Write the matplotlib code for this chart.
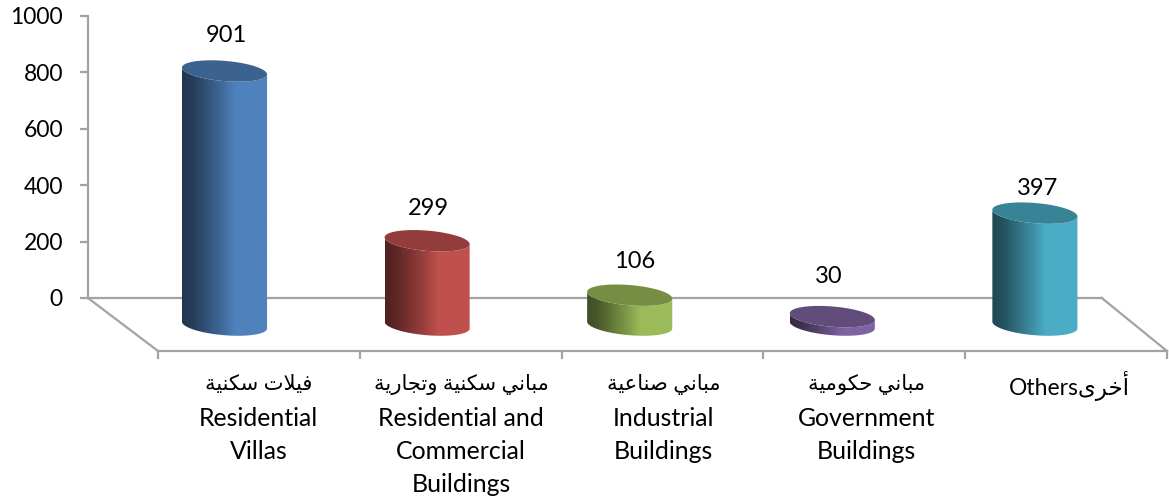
# -*- coding: utf-8 -*-
import numpy as np
import matplotlib
matplotlib.use('Agg')
import matplotlib.pyplot as plt
from matplotlib.colors import LinearSegmentedColormap
from matplotlib.patches import Polygon, PathPatch
from matplotlib.path import Path

plt.rcParams['font.family'] = ['Lato', 'DejaVu Sans']

values = [901, 299, 106, 30, 397]
arabic = ['فيلات سكنية', 'مباني سكنية وتجارية', 'مباني صناعية', 'مباني حكومية', 'أخرى']
english = ['Residential\nVillas', 'Residential and\nCommercial\nBuildings',
           'Industrial\nBuildings', 'Government\nBuildings', '']
colors = ['#4F81BD', '#C0504D', '#9BBB59', '#8064A2', '#4BACC6']
yticks = [0, 200, 400, 600, 800, 1000]

# isolated, final, initial, medial
forms = {
    'ا': 'ﺍﺎ', 'أ': 'ﺃﺄ', 'و': 'ﻭﻮ', 'ر': 'ﺭﺮ', 'ة': 'ﺓﺔ', 'ى': 'ﻯﻰ',
    'ب': 'ﺏﺐﺑﺒ', 'ت': 'ﺕﺖﺗﺘ', 'ج': 'ﺝﺞﺟﺠ', 'ح': 'ﺡﺢﺣﺤ', 'خ': 'ﺥﺦﺧﺨ',
    'س': 'ﺱﺲﺳﺴ', 'ص': 'ﺹﺺﺻﺼ', 'ع': 'ﻉﻊﻋﻌ', 'ف': 'ﻑﻒﻓﻔ', 'ك': 'ﻙﻚﻛﻜ',
    'ل': 'ﻝﻞﻟﻠ', 'م': 'ﻡﻢﻣﻤ', 'ن': 'ﻥﻦﻧﻨ', 'ي': 'ﻱﻲﻳﻴ',
}


def shape(text):
    # matplotlib has no arabic shaping, so pick the joined forms by hand
    out = []
    i = 0
    while i < len(text):
        c = text[i]
        if c not in forms:
            out.append(c)
            i += 1
            continue
        prev = text[i - 1] if i > 0 else ' '
        joined = prev in forms and len(forms[prev]) == 4
        if c == 'ل' and text[i + 1:i + 2] == 'ا':
            out.append('ﻼ' if joined else 'ﻻ')
            i += 2
            continue
        nxt = text[i + 1] if i + 1 < len(text) else ' '
        f = forms[c]
        if len(f) == 4 and nxt in forms:
            out.append(f[3] if joined else f[2])
        else:
            out.append(f[1] if joined else f[0])
        i += 1
    return ''.join(out)[::-1]


W, H = 1169, 497
fig = plt.figure(figsize=(W / 100, H / 100), dpi=100)
ax = fig.add_axes([0, 0, 1, 1])
xlim = (-224.5 / 202.6, (W - 224.5) / 202.6)
ylim = (-(H - 298) / 0.282, 298 / 0.282)

grey = '#A3A3A3'
depth = 0.173
floor = -188
base = -96
back_x = -0.674
front = np.linspace(-0.328, 4.652, 6)

# walls and floor
ax.plot([back_x, 4.33], [0, 0], color=grey, lw=1.6, zorder=1)
ax.plot([back_x, front[0]], [0, floor], color=grey, lw=1.6, zorder=1)
ax.plot([4.33, front[-1]], [0, floor], color=grey, lw=1.6, zorder=1)

for s in ['top', 'right']:
    ax.spines[s].set_visible(False)
ax.spines['left'].set_position(('data', back_x))
ax.spines['left'].set_bounds(0, 1000)
ax.spines['bottom'].set_position(('data', floor))
ax.spines['bottom'].set_bounds(front[0], front[-1])
for s in ['left', 'bottom']:
    ax.spines[s].set_color(grey)
    ax.spines[s].set_linewidth(1.6)

ax.set_yticks(yticks)
ax.tick_params(axis='y', length=6, width=1.6, color=grey, pad=12, labelsize=16.5, labelcolor='black')
ax.set_xticks(front)
ax.set_xticklabels([])
ax.tick_params(axis='x', which='major', length=5.5, width=1.6, color=grey)
ax.set_xticks(np.arange(len(values)) + depth - 0.005, labels=english, minor=True)
ax.tick_params(axis='x', which='minor', length=0, pad=40.5, labelsize=17.9, labelcolor='black')
for t in ax.get_xticklabels(minor=True):
    t.set_linespacing(1.53)
    t.set_verticalalignment('top')

# arabic line sits above the english one, the last label is both on one line
for i, a in enumerate(arabic):
    if english[i]:
        ax.text(i + depth - 0.005, -305, shape(a), ha='center', va='center', fontsize=15.2)
    else:
        ax.text(i + depth - 0.005, -312, 'Others' + shape(a), ha='center', va='center', fontsize=16.5)

# cylinders
half_w = 0.21
half_h = 36
tilt = 12
label_dy = [36, 33, 35, 41, 25]
label_dx = [2, 1, 5, -4, 3]
t = np.linspace(0, 2 * np.pi, 121)
grad = np.linspace(0, 1, 256).reshape(1, -1)


def ellipse(cx, cy, tt):
    return np.column_stack([cx + half_w * np.cos(tt),
                            cy + half_h * np.sin(tt) - tilt * np.cos(tt)])


for i, (v, col) in enumerate(zip(values, colors)):
    rgb = np.array(matplotlib.colors.to_rgb(col))
    top_y = base + v
    lower = np.linspace(np.pi, 2 * np.pi, 61)
    top_edge = ellipse(i, top_y, lower)
    bot_edge = ellipse(i, base, lower)[::-1]
    outline = np.vstack([top_edge, bot_edge, top_edge[:1]])
    cmap = LinearSegmentedColormap.from_list(
        'side', [(0, rgb * 0.42), (0.12, rgb * 0.47), (0.45, rgb * 0.8), (0.62, rgb), (1, rgb)])
    im = ax.imshow(grad, cmap=cmap, aspect='auto', zorder=3, interpolation='bilinear',
                   extent=(i - half_w, i + half_w, base - 60, top_y + 60))
    clip = PathPatch(Path(outline), transform=ax.transData)
    im.set_clip_path(clip)
    ax.add_patch(Polygon(ellipse(i, top_y, t), closed=True, facecolor=rgb * 0.76,
                         edgecolor='none', zorder=4))
    ax.annotate(str(v), (i, top_y + half_h), xytext=(label_dx[i], label_dy[i] - 11),
                textcoords='offset pixels', ha='center', va='center',
                fontsize=17, color='black', zorder=5)

ax.set_xlim(xlim)
ax.set_ylim(ylim)
fig.savefig('out.png', dpi=100, facecolor='white')
